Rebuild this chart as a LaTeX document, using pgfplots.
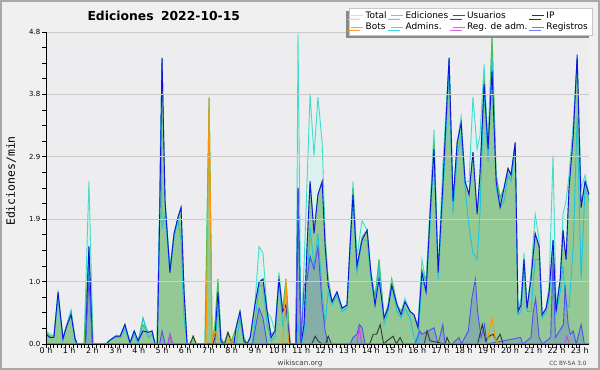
\documentclass[border=0pt]{standalone}
\usepackage{fontspec}
\setmainfont{DejaVu Sans}
\newfontfamily\monofont{DejaVu Sans Mono}
\usepackage{pgfplots}
\usepackage{pgfplotstable}
\pgfplotsset{compat=1.18}
\usetikzlibrary{shadows}
\definecolor{bgc}{HTML}{F0F0F0}
\definecolor{bordc}{HTML}{A8A8A8}
\definecolor{plotbg}{HTML}{EDEDEF}
\definecolor{gridc}{HTML}{CACACA}
\definecolor{totfill}{HTML}{DCF1ED}
\definecolor{totc}{HTML}{40DCCC}
\definecolor{edfill}{HTML}{94C996}
\definecolor{edc}{HTML}{4CC04C}
\definecolor{usc}{HTML}{1010E8}
\definecolor{admc}{HTML}{1CC4DC}
\definecolor{regc}{HTML}{5050F0}
\definecolor{ipc}{HTML}{303830}
\definecolor{botc}{HTML}{FF9500}
\definecolor{ragc}{HTML}{D840E0}
\definecolor{shadc}{HTML}{8A8A8A}
\definecolor{legbord}{HTML}{C8C8C8}

\pgfplotstableread[row sep=\\]{x y\\
0 0.2\\ 0.17 0.15\\ 0.34 0.12\\ 0.52 0.78\\ 0.73 0.1\\ 0.9 0.3\\ 1.08 0.52\\ 1.25 0.1\\ 1.34 0\\ 1.64 0\\ 1.85 2.5\\ 2.03 0\\ 2.6 0\\ 2.72 0.05\\ 3.0 0.12\\ 3.2 0.12\\ 3.4 0.3\\ 3.62 0.02\\ 3.8 0.2\\ 3.97 0.05\\ 4.18 0.4\\ 4.4 0.18\\ 4.57 0.2\\ 4.7 0\\ 4.78 0\\ 4.9 2.0\\ 5.0 4.4\\ 5.13 2.2\\ 5.34 1.2\\ 5.52 1.7\\ 5.69 1.95\\ 5.82 2.1\\ 5.95 0.8\\ 6.08 0\\ 6.25 0\\ 6.34 0.12\\ 6.45 0\\ 6.85 0\\ 7.03 3.78\\ 7.16 0\\ 7.28 0.3\\ 7.41 1.0\\ 7.54 0.1\\ 7.67 0\\ 7.84 0.18\\ 8.0 0.05\\ 8.19 0.25\\ 8.36 0.5\\ 8.53 0.1\\ 8.66 0\\ 8.8 0.1\\ 9.0 0.6\\ 9.18 1.5\\ 9.35 1.4\\ 9.53 0.5\\ 9.7 0.4\\ 9.87 0.2\\ 10.04 1.1\\ 10.2 0.5\\ 10.34 1.0\\ 10.52 0\\ 10.78 0\\ 10.86 4.8\\ 10.99 0.05\\ 11.12 1.2\\ 11.25 2.5\\ 11.38 3.85\\ 11.55 2.9\\ 11.72 3.8\\ 11.9 3.1\\ 12.03 1.7\\ 12.16 1.0\\ 12.33 0.65\\ 12.54 0.8\\ 12.76 0.55\\ 12.97 0.6\\ 13.1 1.5\\ 13.23 2.5\\ 13.4 1.35\\ 13.62 1.9\\ 13.84 1.75\\ 14.0 1.1\\ 14.18 0.72\\ 14.35 1.3\\ 14.57 0.4\\ 14.74 0.6\\ 14.9 1.0\\ 15.13 0.6\\ 15.3 0.5\\ 15.47 0.7\\ 15.69 0.5\\ 15.86 0.45\\ 16.03 0.3\\ 16.2 1.3\\ 16.38 0.95\\ 16.55 2.1\\ 16.72 3.3\\ 16.9 1.1\\ 17.11 2.8\\ 17.37 4.4\\ 17.54 2.2\\ 17.72 3.1\\ 17.89 3.5\\ 18.06 2.5\\ 18.23 2.5\\ 18.4 3.8\\ 18.58 3.0\\ 18.7 3.2\\ 18.88 4.3\\ 19.05 3.0\\ 19.22 4.75\\ 19.4 2.6\\ 19.57 2.25\\ 19.74 2.4\\ 19.91 2.7\\ 20.04 2.6\\ 20.22 3.1\\ 20.34 0.5\\ 20.47 0.7\\ 20.6 1.4\\ 20.73 0.55\\ 20.9 1.1\\ 21.08 2.0\\ 21.25 1.6\\ 21.38 0.45\\ 21.55 0.55\\ 21.68 0.9\\ 21.85 2.9\\ 21.98 0.6\\ 22.16 1.0\\ 22.28 2.0\\ 22.41 2.2\\ 22.54 2.6\\ 22.72 3.4\\ 22.89 4.4\\ 23.06 2.4\\ 23.23 2.6\\ 23.4 2.3\\
}\tabT

\pgfplotstableread[row sep=\\]{x y\\
0 0.18\\ 0.17 0.12\\ 0.34 0.12\\ 0.52 0.78\\ 0.73 0.1\\ 0.9 0.3\\ 1.08 0.5\\ 1.25 0.1\\ 1.34 0\\ 1.64 0\\ 1.85 1.5\\ 2.03 0\\ 2.6 0\\ 2.72 0.05\\ 3.0 0.12\\ 3.2 0.12\\ 3.4 0.3\\ 3.62 0.02\\ 3.8 0.2\\ 3.97 0.05\\ 4.18 0.3\\ 4.4 0.18\\ 4.57 0.2\\ 4.7 0\\ 4.78 0\\ 4.9 2.0\\ 5.0 4.4\\ 5.13 2.2\\ 5.34 1.1\\ 5.52 1.7\\ 5.69 1.95\\ 5.82 2.1\\ 5.95 0.8\\ 6.08 0\\ 6.25 0\\ 6.34 0.12\\ 6.45 0\\ 6.85 0\\ 7.03 3.78\\ 7.16 0\\ 7.28 0.3\\ 7.41 1.0\\ 7.54 0.1\\ 7.67 0\\ 7.84 0.18\\ 8.0 0.05\\ 8.19 0.25\\ 8.36 0.5\\ 8.53 0.1\\ 8.66 0\\ 8.8 0.1\\ 9.0 0.6\\ 9.18 0.95\\ 9.35 1.0\\ 9.53 0.5\\ 9.7 0.15\\ 9.87 0.2\\ 10.04 1.05\\ 10.2 0.5\\ 10.34 1.0\\ 10.52 0\\ 10.78 0\\ 10.86 2.4\\ 10.99 0.05\\ 11.12 0.3\\ 11.25 1.5\\ 11.38 2.5\\ 11.55 1.75\\ 11.72 2.3\\ 11.9 2.5\\ 12.03 1.5\\ 12.16 1.0\\ 12.33 0.65\\ 12.54 0.8\\ 12.76 0.55\\ 12.97 0.6\\ 13.1 1.5\\ 13.23 2.4\\ 13.4 1.2\\ 13.62 1.65\\ 13.84 1.75\\ 14.0 1.1\\ 14.18 0.72\\ 14.35 1.3\\ 14.57 0.4\\ 14.74 0.6\\ 14.9 1.0\\ 15.13 0.6\\ 15.3 0.5\\ 15.47 0.65\\ 15.69 0.5\\ 15.86 0.45\\ 16.03 0.25\\ 16.2 1.15\\ 16.38 0.95\\ 16.55 2.0\\ 16.72 3.1\\ 16.9 1.1\\ 17.11 2.5\\ 17.37 4.4\\ 17.54 2.2\\ 17.72 3.1\\ 17.89 3.4\\ 18.06 2.5\\ 18.23 2.3\\ 18.4 2.95\\ 18.58 2.0\\ 18.7 2.6\\ 18.88 4.1\\ 19.05 3.0\\ 19.22 4.75\\ 19.4 2.6\\ 19.57 2.25\\ 19.74 2.4\\ 19.91 2.7\\ 20.04 2.6\\ 20.22 3.1\\ 20.34 0.5\\ 20.47 0.6\\ 20.6 1.3\\ 20.73 0.55\\ 20.9 1.0\\ 21.08 1.7\\ 21.25 1.5\\ 21.38 0.45\\ 21.55 0.55\\ 21.68 0.8\\ 21.85 1.6\\ 21.98 0.5\\ 22.16 1.0\\ 22.28 1.75\\ 22.41 1.3\\ 22.54 2.4\\ 22.72 3.2\\ 22.89 4.4\\ 23.06 2.1\\ 23.23 2.5\\ 23.4 2.3\\
}\tabE

\pgfplotstableread[row sep=\\]{x y\\
0 0.15\\ 0.17 0.1\\ 0.34 0.1\\ 0.52 0.8\\ 0.73 0.08\\ 0.9 0.28\\ 1.08 0.45\\ 1.25 0.08\\ 1.34 0\\ 1.7 0\\ 1.85 1.5\\ 2.0 0\\ 2.6 0\\ 2.72 0.05\\ 3.0 0.12\\ 3.2 0.12\\ 3.4 0.3\\ 3.62 0.02\\ 3.8 0.2\\ 3.97 0.05\\ 4.18 0.2\\ 4.4 0.18\\ 4.57 0.2\\ 4.7 0\\ 4.8 0\\ 4.9 2.0\\ 5.0 4.4\\ 5.13 2.2\\ 5.34 1.1\\ 5.52 1.7\\ 5.69 1.95\\ 5.82 2.1\\ 5.95 0.8\\ 6.08 0\\ 7.2 0\\ 7.28 0.1\\ 7.41 0.8\\ 7.54 0.05\\ 7.67 0\\ 8.1 0\\ 8.19 0.25\\ 8.36 0.5\\ 8.53 0.05\\ 8.66 0\\ 8.8 0.1\\ 9.0 0.6\\ 9.18 0.95\\ 9.35 1.0\\ 9.53 0.5\\ 9.7 0.1\\ 9.87 0.2\\ 10.04 1.0\\ 10.2 0.5\\ 10.34 0.6\\ 10.52 0\\ 10.78 0\\ 10.86 2.4\\ 10.99 0\\ 11.12 0.3\\ 11.25 1.5\\ 11.38 2.5\\ 11.55 1.7\\ 11.72 2.3\\ 11.9 2.5\\ 12.03 1.5\\ 12.16 0.9\\ 12.33 0.65\\ 12.54 0.8\\ 12.76 0.55\\ 12.97 0.6\\ 13.1 1.5\\ 13.23 2.3\\ 13.4 1.2\\ 13.62 1.6\\ 13.84 1.75\\ 14.0 1.1\\ 14.18 0.6\\ 14.35 1.0\\ 14.57 0.4\\ 14.74 0.55\\ 14.9 0.9\\ 15.13 0.6\\ 15.3 0.45\\ 15.47 0.65\\ 15.69 0.5\\ 15.86 0.45\\ 16.03 0.25\\ 16.2 1.1\\ 16.38 0.8\\ 16.55 2.0\\ 16.72 3.0\\ 16.9 1.1\\ 17.11 2.5\\ 17.37 4.4\\ 17.54 2.2\\ 17.72 3.1\\ 17.89 3.4\\ 18.06 2.5\\ 18.23 2.3\\ 18.4 2.95\\ 18.58 2.0\\ 18.7 2.6\\ 18.88 4.0\\ 19.05 3.0\\ 19.22 4.2\\ 19.4 2.5\\ 19.57 2.1\\ 19.74 2.4\\ 19.91 2.7\\ 20.04 2.6\\ 20.22 3.1\\ 20.34 0.5\\ 20.47 0.6\\ 20.6 1.3\\ 20.73 0.55\\ 20.9 1.0\\ 21.08 1.7\\ 21.25 1.5\\ 21.38 0.45\\ 21.55 0.55\\ 21.68 0.8\\ 21.85 1.6\\ 21.98 0.5\\ 22.16 1.0\\ 22.28 1.75\\ 22.41 1.3\\ 22.54 2.4\\ 22.72 3.2\\ 22.89 4.45\\ 23.06 2.1\\ 23.23 2.5\\ 23.4 2.3\\
}\tabU

\pgfplotstableread[row sep=\\]{x y\\
0 0.15\\ 0.17 0.1\\ 0.34 0.1\\ 0.52 0.7\\ 0.73 0.05\\ 0.9 0.3\\ 1.08 0.5\\ 1.25 0.05\\ 1.34 0\\ 1.7 0\\ 1.85 1.2\\ 2.0 0\\ 2.6 0\\ 2.72 0.05\\ 3.0 0.1\\ 3.2 0.1\\ 3.4 0.25\\ 3.62 0\\ 3.8 0.15\\ 3.97 0\\ 4.18 0.4\\ 4.4 0.1\\ 4.57 0.15\\ 4.7 0\\ 4.8 0\\ 4.95 3.5\\ 5.0 1.8\\ 5.13 2.0\\ 5.34 1.1\\ 5.52 1.65\\ 5.69 1.9\\ 5.82 1.6\\ 5.95 0.4\\ 6.08 0\\ 7.3 0\\ 7.41 0.6\\ 7.54 0\\ 8.2 0\\ 8.36 0.4\\ 8.53 0\\ 8.9 0\\ 9.18 0.9\\ 9.35 0.9\\ 9.53 0.3\\ 9.7 0.05\\ 9.87 0.1\\ 10.04 1.0\\ 10.2 0.3\\ 10.34 0.5\\ 10.52 0\\ 10.8 0\\ 10.86 0.3\\ 10.99 0\\ 11.12 0.2\\ 11.25 0.8\\ 11.38 1.8\\ 11.55 1.2\\ 11.72 1.7\\ 11.9 0.8\\ 12.03 0.3\\ 12.16 0.8\\ 12.33 0.6\\ 12.54 0.75\\ 12.76 0.5\\ 12.97 0.55\\ 13.1 1.4\\ 13.23 2.3\\ 13.4 1.1\\ 13.62 1.6\\ 13.84 1.6\\ 14.0 1.0\\ 14.18 0.6\\ 14.35 1.2\\ 14.57 0.3\\ 14.74 0.5\\ 14.9 0.9\\ 15.13 0.5\\ 15.3 0.4\\ 15.47 0.55\\ 15.69 0.4\\ 15.86 0.1\\ 16.03 0.0\\ 16.2 1.0\\ 16.38 0.8\\ 16.55 1.8\\ 16.72 3.0\\ 16.9 1.0\\ 17.11 2.3\\ 17.37 4.2\\ 17.54 2.0\\ 17.72 2.9\\ 17.89 3.2\\ 18.06 2.4\\ 18.23 1.8\\ 18.4 1.4\\ 18.58 1.3\\ 18.7 2.0\\ 18.88 3.9\\ 19.05 2.8\\ 19.22 4.4\\ 19.4 2.4\\ 19.57 2.1\\ 19.74 2.2\\ 19.91 2.6\\ 20.04 2.5\\ 20.22 3.0\\ 20.34 0.45\\ 20.47 0.5\\ 20.6 1.2\\ 20.73 0.5\\ 20.9 0.5\\ 21.08 1.3\\ 21.25 1.3\\ 21.38 0.4\\ 21.55 0.5\\ 21.68 0.7\\ 21.85 1.5\\ 21.98 0.45\\ 22.16 0.8\\ 22.28 1.2\\ 22.41 0.6\\ 22.54 0.57\\ 22.72 1.5\\ 22.89 3.5\\ 23.06 1.0\\ 23.23 2.4\\ 23.4 2.2\\
}\tabA

\pgfplotstableread[row sep=\\]{x y\\
0 0\\ 1.7 0\\ 1.85 1.0\\ 2.0 0\\ 4.9 0\\ 5.0 0.2\\ 5.13 0\\ 5.25 0\\ 5.35 0.15\\ 5.45 0\\ 8.9 0\\ 9.18 0.55\\ 9.35 0.4\\ 9.53 0\\ 10.75 0\\ 10.86 2.4\\ 10.99 0\\ 11.12 0.9\\ 11.25 1.0\\ 11.38 1.35\\ 11.55 1.15\\ 11.72 1.5\\ 11.9 0.6\\ 12.03 0.2\\ 12.16 0\\ 13.1 0\\ 13.23 0.1\\ 13.4 0.15\\ 13.5 0.3\\ 13.62 0.25\\ 13.75 0\\ 15.9 0\\ 16.1 0.2\\ 16.2 0.15\\ 16.72 0.25\\ 16.9 0\\ 17.1 0.3\\ 17.2 0\\ 17.5 0\\ 17.8 0.1\\ 17.9 0\\ 18.2 0.2\\ 18.35 0.7\\ 18.5 1.0\\ 18.6 0.5\\ 18.75 0.1\\ 18.9 0.3\\ 19.0 0\\ 20.45 0.1\\ 20.55 0\\ 20.9 0.1\\ 21.0 0.5\\ 21.1 0.7\\ 21.25 0.1\\ 21.4 0\\ 21.75 0.1\\ 21.85 1.3\\ 21.95 0.1\\ 22.3 0.3\\ 22.37 0.9\\ 22.5 0.3\\ 22.6 0.15\\ 22.72 0.2\\ 22.85 0\\ 23.06 0.3\\ 23.2 0\\ 23.4 0\\
}\tabR

\pgfplotstableread[row sep=\\]{x y\\
0 0\\ 6.2 0\\ 6.34 0.12\\ 6.48 0\\ 7.7 0\\ 7.84 0.18\\ 7.97 0.05\\ 8.1 0\\ 11.45 0\\ 11.6 0.12\\ 11.72 0.05\\ 11.9 0\\ 12.05 0\\ 12.16 0.12\\ 12.3 0\\ 13.95 0\\ 14.1 0.15\\ 14.25 0.15\\ 14.4 0.3\\ 14.55 0\\ 14.7 0.05\\ 14.96 0.12\\ 15.1 0\\ 15.26 0.1\\ 15.4 0\\ 16.3 0\\ 16.42 0.2\\ 16.55 0.05\\ 17.2 0\\ 17.28 0.1\\ 17.4 0\\ 18.6 0\\ 18.8 0.3\\ 18.95 0.05\\ 19.1 0.12\\ 19.27 0.15\\ 19.4 0.05\\ 19.57 0.15\\ 19.7 0\\ 23.4 0\\
}\tabI

\pgfplotstableread[row sep=\\]{x y\\
0 0\\ 6.9 0\\ 7.03 3.8\\ 7.16 0\\ 7.28 0.2\\ 7.41 0.1\\ 7.5 0\\ 7.8 0\\ 7.95 0.1\\ 8.05 0\\ 10.2 0\\ 10.34 1.0\\ 10.45 0\\ 19.0 0\\ 19.1 0.2\\ 19.22 0.4\\ 19.35 0.1\\ 19.45 0\\ 23.4 0\\
}\tabB

\pgfplotstableread[row sep=\\]{x y\\
0 0\\ 5.25 0\\ 5.35 0.15\\ 5.45 0\\ 13.4 0\\ 13.5 0.25\\ 13.6 0\\ 22.35 0\\ 22.45 0.12\\ 22.55 0\\ 23.4 0\\
}\tabM

\begin{document}
\begin{tikzpicture}
\useasboundingbox (0bp,0bp) rectangle (600bp,370bp);
\fill[bgc] (0bp,0bp) rectangle (600bp,370bp);
\draw[bordc, line width=2bp] (1bp,1bp) rectangle (599bp,369bp);
\begin{axis}[
  at={(46bp,26bp)}, anchor=south west,
  scale only axis, width=543bp, height=312bp,
  xmin=0, xmax=23.4, ymin=0, ymax=4.8,
  axis x line*=bottom, axis y line*=left,
  axis line style={black, line width=0.8bp},
  axis background/.style={fill=plotbg},
  axis on top,
  xtick={0,1,...,23},
  xticklabels={0 h,1 h,2 h,3 h,4 h,5 h,6 h,7 h,8 h,9 h,10 h,11 h,12 h,13 h,14 h,15 h,16 h,17 h,18 h,19 h,20 h,21 h,22 h,23 h},
  minor x tick num=5,
  ytick={0,0.96,1.92,2.88,3.84,4.8},
  yticklabels={0.0,1.0,1.9,2.9,3.8,4.8},
  minor y tick num=3,
  ymajorgrids, grid style={gridc, line width=0.8bp},
  tick align=outside, major tick length=3.5bp, minor tick length=3.5bp,
  tick style={black, line width=0.6bp},
  xticklabel style={font=\fontsize{8}{9}\selectfont, inner sep=1bp, yshift=1bp},
  yticklabel style={font=\fontsize{7}{8}\selectfont, inner sep=1bp, xshift=-1bp},
  legend columns=4,
  legend cell align=left,
  legend style={at={(1,1)}, anchor=north east, xshift=3bp, yshift=24bp,
    font=\fontsize{9}{10}\selectfont, draw=legbord, fill=white,
    drop shadow={shadow xshift=-3bp, shadow yshift=-3bp, fill=shadc, opacity=1},
    inner xsep=2bp, inner ysep=1.5bp, row sep=-1bp,
    /tikz/every even column/.append style={column sep=2bp}},
  legend image code/.code={\draw[#1, line width=0.9bp] (0bp,0bp) -- (12bp,0bp);},
]
\addplot[draw=none, fill=totfill, forget plot] table {\tabT} \closedcycle;
\addplot[draw=none, fill=edfill, forget plot] table {\tabE} \closedcycle;
\addplot[draw=none, fill=regc, fill opacity=0.22, forget plot] table {\tabR} \closedcycle;
\addplot[totc, line width=0.9bp, forget plot] table {\tabT};
\addplot[edc, line width=0.9bp, forget plot] table {\tabE};
\addplot[admc, line width=0.9bp, forget plot] table {\tabA};
\addplot[usc, line width=0.9bp, forget plot] table {\tabU};
\addplot[regc, line width=0.9bp, forget plot] table {\tabR};
\addplot[ipc, line width=0.9bp, forget plot] table {\tabI};
\addplot[botc, line width=0.9bp, forget plot] table {\tabB};
\addplot[ragc, line width=0.9bp, forget plot] table {\tabM};

\addlegendimage{color={rgb,255:red,174;green,238;blue,228}}
\addlegendentry{Total}
\addlegendimage{color={rgb,255:red,120;green,216;blue,120}}
\addlegendentry{Ediciones}
\addlegendimage{color={rgb,255:red,56;green,56;blue,255}}
\addlegendentry{Usuarios}
\addlegendimage{color={rgb,255:red,51;green,51;blue,51}}
\addlegendentry{IP}
\addlegendimage{color={rgb,255:red,255;green,160;blue,48}}
\addlegendentry{Bots}
\addlegendimage{color={rgb,255:red,64;green,212;blue,228}}
\addlegendentry{Admins.}
\addlegendimage{color={rgb,255:red,224;green,96;blue,240}}
\addlegendentry{Reg. de adm.}
\addlegendimage{color={rgb,255:red,120;green,120;blue,255}}
\addlegendentry{Registros}
\end{axis}
\node[anchor=base west, font=\bfseries\fontsize{12.4}{13}\selectfont] at (84bp,349bp) {Ediciones\hspace{0.6em}2022-10-15};
\node[rotate=90, font=\monofont\fontsize{11.5}{12}\selectfont] at (11bp,189bp) {Ediciones/min};
\node[anchor=base, font=\fontsize{7.2}{8}\selectfont, text=black!75] at (300bp,5bp) {wikiscan.org};
\node[anchor=base east, font=\fontsize{5.8}{7}\selectfont, text=black!75] at (590bp,5bp) {CC BY-SA 3.0};
\end{tikzpicture}
\end{document}
